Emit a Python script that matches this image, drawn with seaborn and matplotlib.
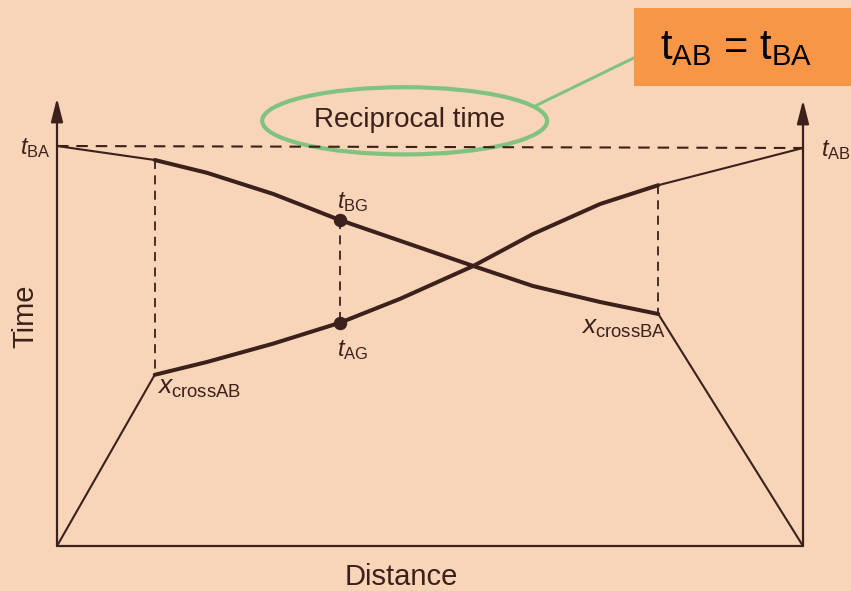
import matplotlib
matplotlib.use("Agg")
import matplotlib.pyplot as plt
from matplotlib.patches import Ellipse, Rectangle
import seaborn as sns

# Distance (0 = source A, 100 = source B) and travel times
dist_thick = [13.1, 20.1, 29.0, 37.9, 46.0, 55.8, 63.8, 72.8, 80.6]
time_BA_thick = [96.5, 93.3, 88.0, 81.5, 76.3, 70.0, 65.0, 61.0, 58.0]
time_AB_thick = [42.8, 46.0, 50.6, 55.8, 61.8, 70.0, 78.0, 85.5, 90.2]

# thin (direct wave) segments
dist_BA_near = [0, 13.1]
time_BA_near = [100, 96.5]
dist_BA_direct = [80.6, 100]
time_BA_direct = [58.0, 0]
dist_AB_direct = [0, 13.1]
time_AB_direct = [0, 42.8]
dist_AB_near = [80.6, 100]
time_AB_near = [90.2, 99.5]

# geophone G
dist_G = [37.9, 37.9]
time_G = [81.5, 55.8]

t_reciprocal = 100
dist_max = 100

bg = "#f8d5b9"
ink = "#3b201b"

sns.set_theme(style="white")
plt.rcParams["font.family"] = ["Liberation Sans", "DejaVu Sans"]
plt.rcParams["mathtext.fontset"] = "custom"
plt.rcParams["mathtext.rm"] = "Liberation Sans"
plt.rcParams["mathtext.it"] = "Liberation Sans:italic"
plt.rcParams["mathtext.bf"] = "Liberation Sans:bold"

fig = plt.figure(figsize=(8.51, 5.91), dpi=100, facecolor=bg)
ax = fig.add_axes([0, 0, 1, 1])
ax.set_facecolor(bg)

# thick refracted branches
sns.lineplot(x=dist_thick, y=time_BA_thick, ax=ax, color=ink, lw=2.9, sort=False, estimator=None)
sns.lineplot(x=dist_thick, y=time_AB_thick, ax=ax, color=ink, lw=2.9, sort=False, estimator=None)

# thin branches
for xs, ys in [(dist_BA_near, time_BA_near), (dist_BA_direct, time_BA_direct),
               (dist_AB_direct, time_AB_direct), (dist_AB_near, time_AB_near)]:
    sns.lineplot(x=xs, y=ys, ax=ax, color=ink, lw=1.5, sort=False, estimator=None)

# reciprocal time dashed line
ax.plot([0, dist_max], [t_reciprocal, t_reciprocal - 0.5], color=ink, lw=1.5, ls=(0, (5.5, 3.8)))

# vertical dashed lines at the crossovers and at G
ax.plot([dist_thick[0]] * 2, [time_BA_thick[0], time_AB_thick[0]], color=ink, lw=1.3, ls=(0, (5, 3.5)))
ax.plot([dist_thick[-1]] * 2, [time_AB_thick[-1], time_BA_thick[-1]], color=ink, lw=1.3, ls=(0, (5, 3.5)))
ax.plot(dist_G, time_G, color=ink, lw=1.3, ls=(0, (5, 3.5)))
sns.scatterplot(x=dist_G, y=time_G, ax=ax, color=ink, s=80, edgecolor=ink, zorder=5)

# axes drawn by hand
ax.plot([0, dist_max], [0, 0], color=ink, lw=1.6)
arrow = dict(arrowstyle="-|>,head_length=0.95,head_width=0.24", color=ink, lw=1.6,
             shrinkA=0, shrinkB=0, mutation_scale=15)
ax.annotate("", xy=(0, 112), xytext=(0, 0), arrowprops=arrow)
ax.annotate("", xy=(dist_max, 111.5), xytext=(dist_max, 0), arrowprops=arrow)

# labels
ax.text(-0.9, 99.6, r"$t_{\mathrm{BA}}$", ha="right", va="center", fontsize=17, color=ink)
ax.text(102.4, 99.0, r"$t_{\mathrm{AB}}$", ha="left", va="center", fontsize=17, color=ink)
ax.text(37.6, 86.0, r"$t_{\mathrm{BG}}$", ha="left", va="center", fontsize=17, color=ink)
ax.text(37.6, 49.0, r"$t_{\mathrm{AG}}$", ha="left", va="center", fontsize=17, color=ink)
ax.text(13.4, 39.5, r"$x_{\mathrm{crossAB}}$", ha="left", va="center", fontsize=19, color=ink)
ax.text(70.3, 54.5, r"$x_{\mathrm{crossBA}}$", ha="left", va="center", fontsize=19, color=ink)
ax.text(-4.3, 57.5, "Time", rotation=90, ha="center", va="center", fontsize=21, color=ink)
ax.text(46.2, -7.8, "Distance", ha="center", va="center", fontsize=21, color=ink)
ax.text(47.3, 106.5, "Reciprocal time", ha="center", va="center", fontsize=20, color=ink)

# green hand-drawn highlight and call-out box
ax.add_patch(Ellipse((46.6, 106.3), 38.2, 16.8, fill=False, edgecolor="#74c07a", lw=3, alpha=0.9))
ax.plot([64.3, 77.3], [110.2, 122.0], color="#74c07a", lw=2.2, alpha=0.9)
ax.add_patch(Rectangle((77.3, 115.0), 40, 19.6, facecolor="#f79646", edgecolor="none", zorder=6))
ax.text(91.0, 124.6, r"t$_{\mathrm{AB}}$ = t$_{\mathrm{BA}}$", ha="center", va="center", fontsize=30,
        color="black", zorder=7)

ax.set_xlim(-57 / 7.46, (851 - 57) / 7.46)
ax.set_ylim(-45 / 4, 546 / 4)
ax.set_axis_off()

fig.savefig("out.png", dpi=100, facecolor=bg)
